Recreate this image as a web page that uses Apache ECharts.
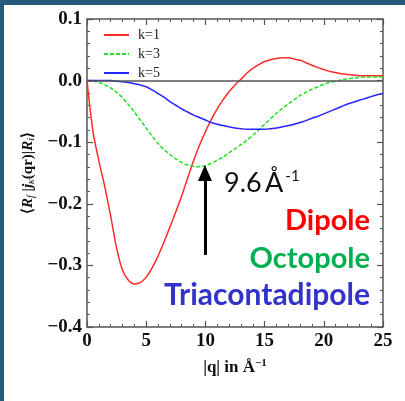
<!DOCTYPE html>
<html>
<head>
<meta charset="utf-8">
<script src="https://cdn.jsdelivr.net/npm/echarts@6/dist/echarts.min.js"></script>
<style>
html, body { margin: 0; padding: 0; background: #265a79; width: 405px; height: 401px; overflow: hidden; }
#chart { position: absolute; left: 4px; top: 5px; width: 401px; height: 396px; background: #fff; }
</style>
</head>
<body>
<div id="chart"></div>
<script>
// q in 1/Angstrom
const qValues = [0, 0.5, 1, 1.5, 2, 2.5, 3, 3.5, 4, 4.5, 5, 5.5, 6, 6.5, 7, 7.5, 8, 8.5, 9, 9.5,
  10, 10.5, 11, 11.5, 12, 12.5, 13, 13.5, 14, 14.5, 15, 15.5, 16, 16.5, 17, 17.5, 18, 18.5, 19, 19.5,
  20, 20.5, 21, 21.5, 22, 22.5, 23, 23.5, 24, 24.5, 25];
// k=1 (dipole)
const k1 = [0, -0.082, -0.130, -0.172, -0.220, -0.272, -0.308, -0.324, -0.330, -0.328, -0.319, -0.304, -0.285, -0.262, -0.238, -0.213, -0.187, -0.158, -0.130, -0.105,
  -0.083, -0.063, -0.046, -0.031, -0.018, -0.007, 0.002, 0.012, 0.020, 0.026, 0.031, 0.034, 0.036, 0.037, 0.037, 0.035, 0.033, 0.029, 0.025, 0.021,
  0.018, 0.015, 0.013, 0.011, 0.010, 0.009, 0.008, 0.008, 0.008, 0.008, 0.008];
// k=3 (octopole)
const k3 = [0, -0.001, -0.003, -0.007, -0.012, -0.019, -0.028, -0.039, -0.051, -0.064, -0.077, -0.090, -0.102, -0.112, -0.120, -0.127, -0.133, -0.137, -0.139, -0.140,
  -0.138, -0.134, -0.129, -0.124, -0.117, -0.111, -0.104, -0.097, -0.089, -0.080, -0.071, -0.062, -0.053, -0.045, -0.038, -0.031, -0.024, -0.019, -0.014, -0.010,
  -0.006, -0.003, -0.001, 0.001, 0.003, 0.004, 0.005, 0.006, 0.006, 0.006, 0.006];
// k=5 (triacontadipole)
const k5 = [0, 0, 0, 0, 0, -0.001, -0.002, -0.003, -0.005, -0.007, -0.010, -0.015, -0.021, -0.027, -0.034, -0.040, -0.046, -0.051, -0.056, -0.060,
  -0.064, -0.068, -0.071, -0.073, -0.075, -0.077, -0.078, -0.079, -0.079, -0.079, -0.079, -0.078, -0.077, -0.075, -0.073, -0.071, -0.068, -0.065, -0.061, -0.058,
  -0.054, -0.050, -0.046, -0.042, -0.038, -0.035, -0.032, -0.029, -0.026, -0.023, -0.021];

const legendNames = ['k=1', 'k=3', 'k=5'];
const xTicks = [0, 25, 5];       // min, max, step
const yTicks = [-0.4, 0.1, 0.1];

// arrow pointing at the k=3 minimum (9.6 A^-1)
const arrowQ = 9.96;
const arrowFrom = -0.283;
const arrowTo = -0.150;

const pairs = (ys) => qValues.map((x, i) => [x, ys[i]]);

const chart = echarts.init(document.getElementById('chart'));

const serif = 'Liberation Serif';
const axisColor = '#555';

const tickFmt = (v) => (v < -1e-9 ? '\u2212' : '') + Math.abs(v).toFixed(1);

const commonX = {
  type: 'value', min: xTicks[0], max: xTicks[1], interval: xTicks[2],
  axisLine: { show: true, onZero: false, lineStyle: { color: axisColor, width: 1.5 } },
  axisTick: { show: true, inside: true, length: 6, lineStyle: { color: axisColor, width: 1.2 } },
  minorTick: { show: true, splitNumber: 5, length: 3, lineStyle: { color: axisColor, width: 1 } },
  splitLine: { show: false }
};
const commonY = {
  type: 'value', min: yTicks[0], max: yTicks[1], interval: yTicks[2],
  axisLine: { show: true, onZero: false, lineStyle: { color: axisColor, width: 1.5 } },
  axisTick: { show: true, inside: true, length: 6, lineStyle: { color: axisColor, width: 1.2 } },
  minorTick: { show: true, splitNumber: 5, length: 3, lineStyle: { color: axisColor, width: 1 } },
  splitLine: { show: false }
};

const option = {
  animation: false,
  grid: { left: 83, top: 14, right: 22, bottom: 74 },
  legend: {
    data: legendNames,
    orient: 'vertical',
    left: 94, top: 18,
    itemWidth: 25, itemHeight: 14, itemGap: 5,
    itemStyle: { opacity: 0 },
    textStyle: { fontFamily: serif, fontSize: 14, color: '#222', padding: [0, 0, 0, 4] }
  },
  xAxis: [
    Object.assign({}, commonX, {
      position: 'bottom',
      axisLabel: { fontFamily: serif, fontWeight: 'bold', fontSize: 19, color: '#111', margin: 5 },
      name: '{a||q| in Å}{s|\u22121}',
      nameLocation: 'middle', nameGap: 31,
      nameTextStyle: {
        rich: {
          a: { fontFamily: serif, fontWeight: 'bold', fontSize: 17, color: '#111' },
          s: { fontFamily: serif, fontWeight: 'bold', fontSize: 11, color: '#111', verticalAlign: 'top', padding: [0, 0, 8, 0] }
        }
      }
    }),
    Object.assign({}, commonX, {
      position: 'top',
      axisLabel: { show: false }
    })
  ],
  yAxis: [
    Object.assign({}, commonY, {
      position: 'left',
      axisLabel: { fontFamily: serif, fontWeight: 'bold', fontSize: 19, color: '#111', margin: 5, formatter: tickFmt },
      name: '{a|\u27e8}{i|R}{s|f}{a| |}{i|j}{s|\u03ba}{a|(qr)|}{i|R}{s|i}{a|\u27e9}',
      nameLocation: 'middle', nameGap: 47, nameRotate: 90,
      nameTextStyle: {
        rich: {
          a: { fontFamily: serif, fontWeight: 'bold', fontSize: 15, color: '#111' },
          i: { fontFamily: serif, fontStyle: 'italic', fontWeight: 'bold', fontSize: 15, color: '#111' },
          s: { fontFamily: serif, fontStyle: 'italic', fontSize: 10, color: '#111', verticalAlign: 'bottom', padding: [6, 0, 0, 0] }
        }
      }
    }),
    Object.assign({}, commonY, {
      position: 'right',
      axisLabel: { show: false }
    })
  ],
  series: [
    {
      name: 'k=1', type: 'line', data: pairs(k1), smooth: 0.3, symbol: 'none',
      lineStyle: { color: '#ff2a2a', width: 1.5 }, itemStyle: { color: '#ff2a2a' }, z: 3
    },
    {
      name: 'k=3', type: 'line', data: pairs(k3), smooth: 0.3, symbol: 'none',
      lineStyle: { color: '#22e022', width: 1.5, type: [4, 2] }, itemStyle: { color: '#22e022' }, z: 3,
      markLine: {
        silent: true, animation: false,
        symbol: ['none', 'triangle'], symbolSize: [14, 16],
        label: { show: false },
        lineStyle: { color: '#000', width: 3, type: 'solid' },
        data: [[{ coord: [arrowQ, arrowFrom] }, { coord: [arrowQ, arrowTo] }]]
      }
    },
    {
      name: 'k=5', type: 'line', data: pairs(k5), smooth: 0.3, symbol: 'none',
      lineStyle: { color: '#2626ff', width: 1.5 }, itemStyle: { color: '#2626ff' }, z: 3,
      markLine: {
        silent: true, animation: false, symbol: ['none', 'none'],
        label: { show: false },
        lineStyle: { color: '#555', width: 1.5, type: 'solid' },
        data: [{ yAxis: 0 }]
      }
    }
  ],
  graphic: [
    {
      type: 'text', left: 220, top: 164,
      style: {
        text: '{a|9.6\u2009Å}{s|-1}',
        rich: {
          a: { fontFamily: 'Lato', fontSize: 27, fill: '#111' },
          s: { fontFamily: 'Lato', fontSize: 15, fill: '#111', verticalAlign: 'top', padding: [0, 0, 14, 2] }
        }
      }
    },
    { type: 'text', right: 35, top: 201, style: { text: 'Dipole', fontFamily: 'Lato', fontWeight: 'bold', fontSize: 29, fill: '#ff0000' } },
    { type: 'text', right: 35, top: 239, style: { text: 'Octopole', fontFamily: 'Lato', fontWeight: 'bold', fontSize: 29, fill: '#00b050' } },
    { type: 'text', right: 35, top: 275, style: { text: 'Triacontadipole', fontFamily: 'Lato', fontWeight: 'bold', fontSize: 30, fill: '#3333cc' } }
  ]
};

chart.setOption(option);
</script>
</body>
</html>
